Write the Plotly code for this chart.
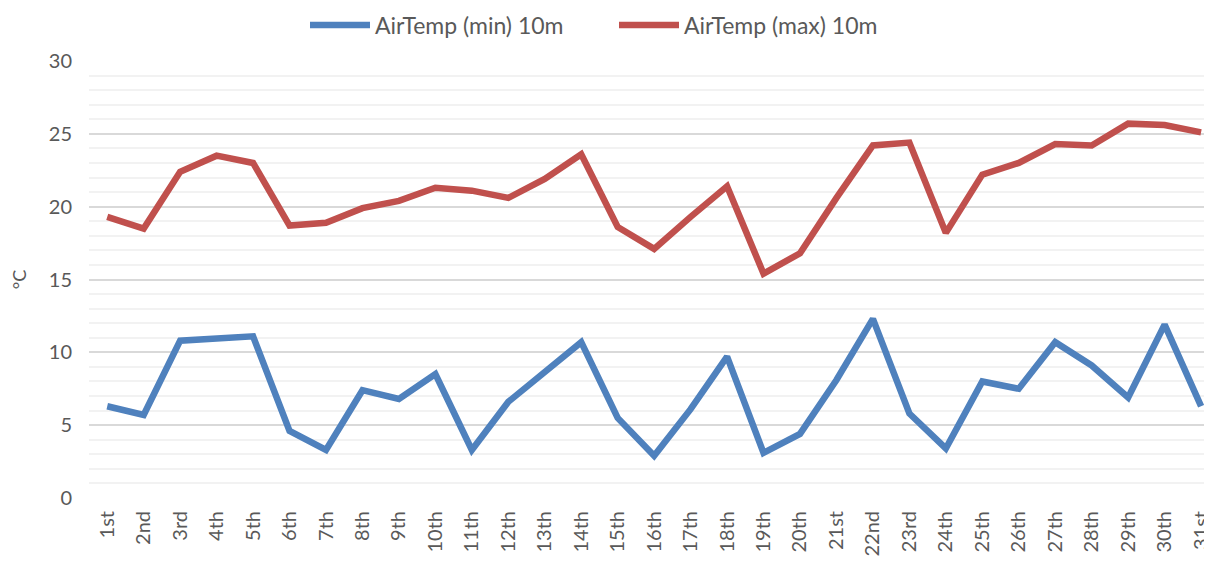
import plotly.graph_objects as go

days = ["1st","2nd","3rd","4th","5th","6th","7th","8th","9th","10th","11th","12th","13th","14th","15th","16th","17th","18th","19th","20th","21st","22nd","23rd","24th","25th","26th","27th","28th","29th","30th","31st"]
air_min = [6.3,5.7,10.8,10.9,11.1,4.6,3.3,7.4,6.8,8.5,3.3,6.6,8.6,10.7,5.5,2.9,6.1,9.7,3.1,4.4,8.1,12.3,5.8,3.4,8.0,7.5,10.7,9.1,6.9,11.9,6.3]
air_max = [19.3,18.5,22.4,23.5,23.0,18.7,18.9,19.9,20.4,21.3,21.1,20.6,21.9,23.6,18.6,17.1,19.3,21.4,15.4,16.8,20.6,24.2,24.4,18.2,22.2,23.0,24.3,24.2,25.7,25.6,25.1]
series_names = ["AirTemp (min) 10m", "AirTemp (max) 10m"]

FONT = "Lato"
TXT = "#595959"

fig = go.Figure()
fig.add_trace(go.Scatter(x=days, y=air_min, mode="lines", name=series_names[0],
                         line=dict(color="#4f81bd", width=6.5)))
fig.add_trace(go.Scatter(x=days, y=air_max, mode="lines", name=series_names[1],
                         line=dict(color="#c0504d", width=6.5)))

fig.update_layout(
    width=1204, height=553,
    margin=dict(l=81, r=0, t=53, b=63, autoexpand=False),
    paper_bgcolor="white", plot_bgcolor="white",
    font=dict(family=FONT, color=TXT, size=18),
    showlegend=True,
    legend=dict(orientation="h", x=297 / 1204, xanchor="left", xref="container",
                y=0.969, yanchor="middle", yref="container",
                font=dict(size=23, color=TXT), itemwidth=60,
                entrywidth=234, entrywidthmode="pixels"),
    xaxis=dict(type="category", range=[-0.5, 30.3], showgrid=False, showline=False,
               automargin=False, ticks="", tickangle=-90, ticklabelstandoff=8,
               tickfont=dict(size=20, color=TXT)),
    yaxis=dict(range=[0, 30], dtick=5, showline=False, zeroline=False, automargin=False,
               gridcolor="#d9d9d9", gridwidth=1.5,
               minor=dict(dtick=1, showgrid=True, gridcolor="#f2f2f2", gridwidth=1.5),
               tickfont=dict(size=20, color=TXT), ticks="", ticklen=0, ticklabelstandoff=16,
               title=dict(text="°C", font=dict(size=18, color=TXT), standoff=18)),
)

fig.write_html("out.html")
